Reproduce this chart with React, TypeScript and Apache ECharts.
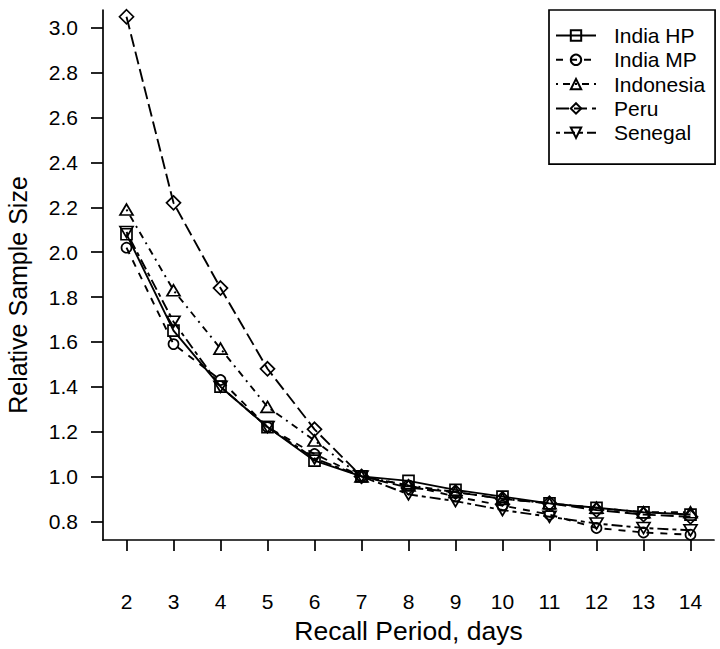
import React, { useEffect, useRef } from "react";
import * as echarts from "echarts";

const days = [2, 3, 4, 5, 6, 7, 8, 9, 10, 11, 12, 13, 14];
const yTicks = [0.8, 1.0, 1.2, 1.4, 1.6, 1.8, 2.0, 2.2, 2.4, 2.6, 2.8, 3.0];

const indiaHP = [2.08, 1.65, 1.4, 1.22, 1.07, 1.0, 0.98, 0.94, 0.91, 0.88, 0.86, 0.84, 0.83];
const indiaMP = [2.02, 1.59, 1.43, 1.22, 1.1, 1.0, 0.96, 0.91, 0.87, 0.83, 0.77, 0.75, 0.74];
const indonesia = [2.19, 1.83, 1.57, 1.31, 1.16, 1.0, 0.96, 0.93, 0.9, 0.88, 0.86, 0.84, 0.84];
const peru = [3.05, 2.22, 1.84, 1.48, 1.21, 1.0, 0.95, 0.93, 0.9, 0.88, 0.85, 0.83, 0.82];
const senegal = [2.09, 1.69, 1.4, 1.22, 1.08, 1.0, 0.92, 0.89, 0.85, 0.82, 0.79, 0.77, 0.76];

const FONT = "'Liberation Sans', Arial, Helvetica, sans-serif";

function mkSeries(name: string, vals: number[], symbol: string, size: any, dash: any, rotate = 0) {
  return {
    name,
    type: "line",
    data: days.map((d, i) => [d, vals[i]]),
    symbol,
    symbolSize: size,
    symbolRotate: rotate,
    showSymbol: true,
    silent: true,
    lineStyle: { color: "#000", width: 1.9, type: dash },
    itemStyle: { color: "rgba(0,0,0,0)", borderColor: "#000", borderWidth: 1.7 },
    emphasis: { disabled: true },
  };
}

export default function App() {
  const ref = useRef<HTMLDivElement>(null);
  useEffect(() => {
    const chart = echarts.init(ref.current!, null, { renderer: "svg" });
    const option: any = {
      animation: false,
      backgroundColor: "#fff",
      grid: { left: 103, right: 6, top: 10, bottom: 105, containLabel: false },
      xAxis: {
        type: "value",
        min: 1.5,
        max: 14.5,
        name: "Recall Period, days",
        nameLocation: "middle",
        nameGap: 65,
        nameTextStyle: { fontFamily: FONT, fontSize: 26.5, color: "#000" },
        axisLine: { show: true, onZero: false, lineStyle: { color: "#000", width: 1.7 } },
        axisTick: { show: true, length: 11, customValues: days, lineStyle: { color: "#000", width: 1.7 } },
        axisLabel: { customValues: days, fontFamily: FONT, fontSize: 21, color: "#000", margin: 51 },
        splitLine: { show: false },
      },
      yAxis: {
        type: "value",
        min: 0.716,
        max: 3.08,
        axisLine: { show: true, onZero: false, lineStyle: { color: "#000", width: 1.7 } },
        axisTick: { show: true, length: 12, customValues: yTicks, lineStyle: { color: "#000", width: 1.7 } },
        axisLabel: {
          customValues: yTicks,
          fontFamily: FONT,
          fontSize: 21,
          color: "#000",
          margin: 25,
          formatter: (v: number) => v.toFixed(1),
        },
        splitLine: { show: false },
      },
      graphic: [
        {
          type: "text",
          x: 18,
          y: 295,
          rotation: Math.PI / 2,
          silent: true,
          style: {
            text: "Relative Sample Size",
            fontFamily: FONT,
            fontSize: 25,
            fill: "#000",
            align: "center",
            verticalAlign: "middle",
          },
        },
      ],
      legend: {
        orient: "vertical",
        left: 549,
        top: 10,
        padding: [15, 10, 21, 6],
        itemWidth: 40,
        itemHeight: 13,
        itemGap: 3.3,
        borderColor: "#000",
        borderWidth: 1.7,
        selectedMode: false,
        textStyle: { fontFamily: FONT, fontSize: 21, color: "#000", lineHeight: 21, padding: [0, 0, 0, 13] },
        data: ["India HP", "India MP", "Indonesia", "Peru", "Senegal"],
      },
      series: [
        mkSeries("India HP", indiaHP, "rect", 11, "solid"),
        mkSeries("India MP", indiaMP, "circle", 10, [7, 7]),
        mkSeries("Indonesia", indonesia, "triangle", [13, 11], [2, 5, 7, 5]),
        mkSeries("Peru", peru, "diamond", [14, 14], [13, 5]),
        mkSeries("Senegal", senegal, "triangle", [13, 11], [4, 4, 11, 4], 180),
      ],
    };
    chart.setOption(option);
    return () => chart.dispose();
  }, []);
  return (
    <div
      ref={ref}
      style={{ position: "absolute", left: 0, top: 0, width: 720, height: 649, background: "#fff" }}
    />
  );
}
